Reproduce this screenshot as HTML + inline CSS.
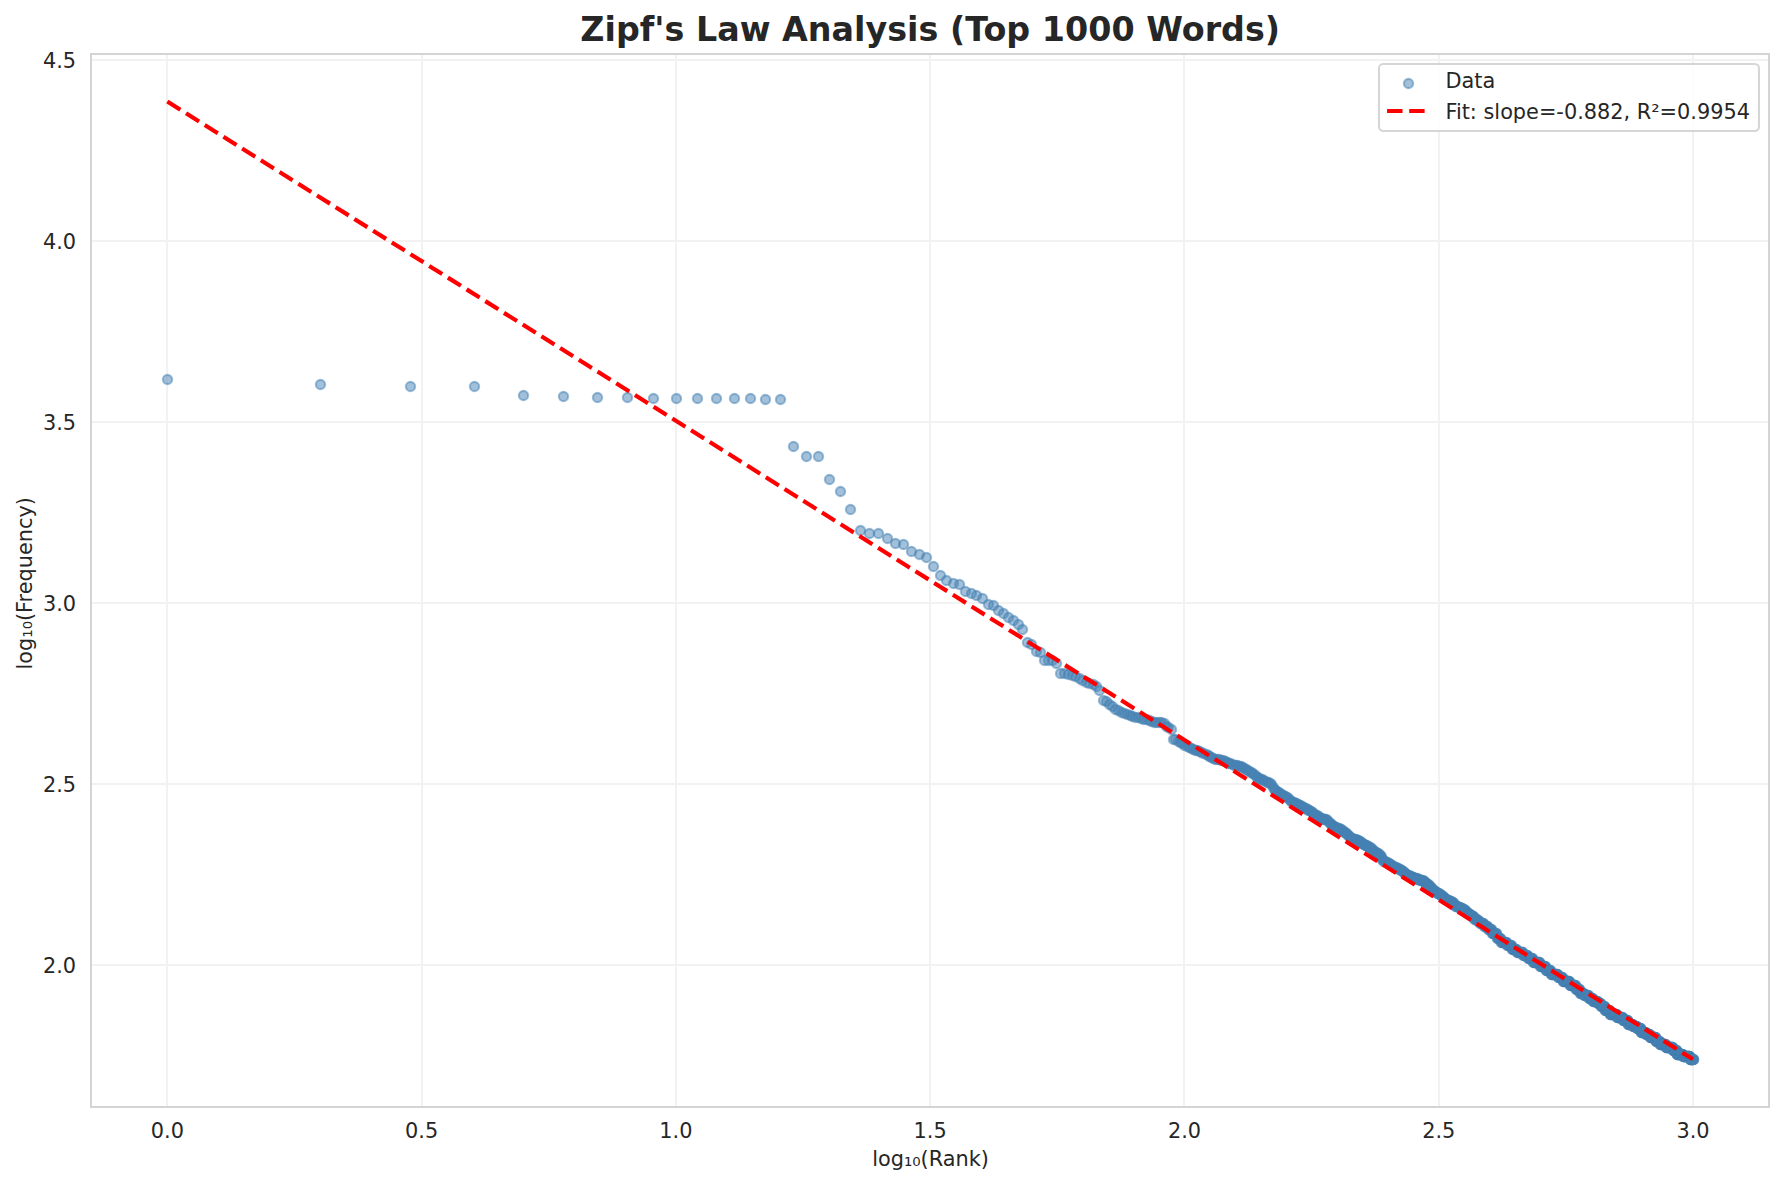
<!DOCTYPE html>
<html lang="en">
<head>
<meta charset="utf-8">
<title>Zipf's Law Analysis (Top 1000 Words)</title>
<style>
html,body{margin:0;padding:0;background:#fff;}
body{width:1784px;height:1185px;overflow:hidden;}
svg{display:block;}
text{font-family:"DejaVu Sans", "Liberation Sans", sans-serif;fill:#262626;}
.t{font-size:20.833px;}
.title{font-size:33.333px;font-weight:bold;}
.g{fill:#f2f2f2;}
.sp{fill:#d4d4d4;}
.pt circle{fill:#4682b4;fill-opacity:.5;stroke:#4682b4;stroke-opacity:.5;stroke-width:2.083;}
</style>
</head>
<body>
<svg width="1784" height="1185" viewBox="0 0 1784 1185">
<rect x="0" y="0" width="1784" height="1185" fill="#ffffff"/>
<g class="g" shape-rendering="crispEdges">
<rect x="166" y="54" width="2" height="1053"/>
<rect x="421" y="54" width="2" height="1053"/>
<rect x="675" y="54" width="2" height="1053"/>
<rect x="929" y="54" width="2" height="1053"/>
<rect x="1183" y="54" width="2" height="1053"/>
<rect x="1438" y="54" width="2" height="1053"/>
<rect x="1692" y="54" width="2" height="1053"/>
<rect x="91" y="59" width="1678" height="2"/>
<rect x="91" y="240" width="1678" height="2"/>
<rect x="91" y="421" width="1678" height="2"/>
<rect x="91" y="602" width="1678" height="2"/>
<rect x="91" y="783" width="1678" height="2"/>
<rect x="91" y="964" width="1678" height="2"/>
</g>
<g class="pt">
<circle cx="167.50" cy="379.50" r="4.658"/>
<circle cx="320.50" cy="384.50" r="4.658"/>
<circle cx="410.50" cy="386.50" r="4.658"/>
<circle cx="474.50" cy="386.50" r="4.658"/>
<circle cx="523.50" cy="395.50" r="4.658"/>
<circle cx="563.50" cy="396.50" r="4.658"/>
<circle cx="597.50" cy="397.50" r="4.658"/>
<circle cx="627.50" cy="397.50" r="4.658"/>
<circle cx="653.50" cy="398.50" r="4.658"/>
<circle cx="676.50" cy="398.50" r="4.658"/>
<circle cx="697.50" cy="398.50" r="4.658"/>
<circle cx="716.50" cy="398.50" r="4.658"/>
<circle cx="734.50" cy="398.50" r="4.658"/>
<circle cx="750.50" cy="398.50" r="4.658"/>
<circle cx="765.50" cy="399.50" r="4.658"/>
<circle cx="780.50" cy="399.50" r="4.658"/>
<circle cx="793.50" cy="446.50" r="4.658"/>
<circle cx="806.50" cy="456.50" r="4.658"/>
<circle cx="818.50" cy="456.50" r="4.658"/>
<circle cx="829.50" cy="479.50" r="4.658"/>
<circle cx="840.50" cy="491.50" r="4.658"/>
<circle cx="850.50" cy="509.50" r="4.658"/>
<circle cx="860.50" cy="530.50" r="4.658"/>
<circle cx="869.50" cy="533.50" r="4.658"/>
<circle cx="878.50" cy="533.50" r="4.658"/>
<circle cx="887.50" cy="538.50" r="4.658"/>
<circle cx="895.50" cy="543.50" r="4.658"/>
<circle cx="903.50" cy="544.50" r="4.658"/>
<circle cx="911.50" cy="551.50" r="4.658"/>
<circle cx="919.50" cy="554.50" r="4.658"/>
<circle cx="926.50" cy="557.50" r="4.658"/>
<circle cx="933.50" cy="566.50" r="4.658"/>
<circle cx="940.50" cy="575.50" r="4.658"/>
<circle cx="946.50" cy="580.50" r="4.658"/>
<circle cx="953.50" cy="583.50" r="4.658"/>
<circle cx="959.50" cy="584.50" r="4.658"/>
<circle cx="965.50" cy="591.50" r="4.658"/>
<circle cx="971.50" cy="593.50" r="4.658"/>
<circle cx="976.50" cy="595.50" r="4.658"/>
<circle cx="982.50" cy="598.50" r="4.658"/>
<circle cx="988.50" cy="604.50" r="4.658"/>
<circle cx="993.50" cy="605.50" r="4.658"/>
<circle cx="998.50" cy="610.50" r="4.658"/>
<circle cx="1003.50" cy="613.50" r="4.658"/>
<circle cx="1008.50" cy="617.50" r="4.658"/>
<circle cx="1013.50" cy="620.50" r="4.658"/>
<circle cx="1018.50" cy="624.50" r="4.658"/>
<circle cx="1022.50" cy="629.50" r="4.658"/>
<circle cx="1027.50" cy="642.50" r="4.658"/>
<circle cx="1031.50" cy="644.50" r="4.658"/>
<circle cx="1036.50" cy="651.50" r="4.658"/>
<circle cx="1040.50" cy="652.50" r="4.658"/>
<circle cx="1044.50" cy="660.50" r="4.658"/>
<circle cx="1048.50" cy="660.50" r="4.658"/>
<circle cx="1052.50" cy="660.50" r="4.658"/>
<circle cx="1056.50" cy="663.50" r="4.658"/>
<circle cx="1060.50" cy="673.50" r="4.658"/>
<circle cx="1064.50" cy="673.50" r="4.658"/>
<circle cx="1068.50" cy="674.50" r="4.658"/>
<circle cx="1072.50" cy="675.50" r="4.658"/>
<circle cx="1075.50" cy="676.50" r="4.658"/>
<circle cx="1079.50" cy="678.50" r="4.658"/>
<circle cx="1082.50" cy="680.50" r="4.658"/>
<circle cx="1086.50" cy="682.50" r="4.658"/>
<circle cx="1089.50" cy="683.50" r="4.658"/>
<circle cx="1093.50" cy="684.50" r="4.658"/>
<circle cx="1096.50" cy="686.50" r="4.658"/>
<circle cx="1099.50" cy="690.50" r="4.658"/>
<circle cx="1103.50" cy="700.50" r="4.658"/>
<circle cx="1106.50" cy="701.50" r="4.658"/>
<circle cx="1109.50" cy="704.50" r="4.658"/>
<circle cx="1112.50" cy="706.50" r="4.658"/>
<circle cx="1115.50" cy="709.50" r="4.658"/>
<circle cx="1118.50" cy="710.50" r="4.658"/>
<circle cx="1121.50" cy="712.50" r="4.658"/>
<circle cx="1124.50" cy="713.50" r="4.658"/>
<circle cx="1127.50" cy="714.50" r="4.658"/>
<circle cx="1130.50" cy="715.50" r="4.658"/>
<circle cx="1132.50" cy="716.50" r="4.658"/>
<circle cx="1135.50" cy="717.50" r="4.658"/>
<circle cx="1138.50" cy="717.50" r="4.658"/>
<circle cx="1141.50" cy="718.50" r="4.658"/>
<circle cx="1143.50" cy="719.50" r="4.658"/>
<circle cx="1146.50" cy="719.50" r="4.658"/>
<circle cx="1149.50" cy="720.50" r="4.658"/>
<circle cx="1151.50" cy="721.50" r="4.658"/>
<circle cx="1154.50" cy="722.50" r="4.658"/>
<circle cx="1156.50" cy="722.50" r="4.658"/>
<circle cx="1159.50" cy="722.50" r="4.658"/>
<circle cx="1161.50" cy="722.50" r="4.658"/>
<circle cx="1164.50" cy="723.50" r="4.658"/>
<circle cx="1166.50" cy="726.50" r="4.658"/>
<circle cx="1168.50" cy="727.50" r="4.658"/>
<circle cx="1171.50" cy="729.50" r="4.658"/>
<circle cx="1173.50" cy="739.50" r="4.658"/>
<circle cx="1175.50" cy="739.50" r="4.658"/>
<circle cx="1178.50" cy="741.50" r="4.658"/>
<circle cx="1180.50" cy="742.50" r="4.658"/>
<circle cx="1182.50" cy="743.50" r="4.658"/>
<circle cx="1184.50" cy="745.50" r="4.658"/>
<circle cx="1187.50" cy="746.50" r="4.658"/>
<circle cx="1189.50" cy="747.50" r="4.658"/>
<circle cx="1191.50" cy="748.50" r="4.658"/>
<circle cx="1193.50" cy="749.50" r="4.658"/>
<circle cx="1195.50" cy="750.50" r="4.658"/>
<circle cx="1197.50" cy="750.50" r="4.658"/>
<circle cx="1199.50" cy="751.50" r="4.658"/>
<circle cx="1201.50" cy="752.50" r="4.658"/>
<circle cx="1203.50" cy="753.50" r="4.658"/>
<circle cx="1206.50" cy="754.50" r="4.658"/>
<circle cx="1208.50" cy="755.50" r="4.658"/>
<circle cx="1209.50" cy="756.50" r="4.658"/>
<circle cx="1211.50" cy="757.50" r="4.658"/>
<circle cx="1213.50" cy="758.50" r="4.658"/>
<circle cx="1215.50" cy="759.50" r="4.658"/>
<circle cx="1217.50" cy="759.50" r="4.658"/>
<circle cx="1219.50" cy="759.50" r="4.658"/>
<circle cx="1221.50" cy="760.50" r="4.658"/>
<circle cx="1223.50" cy="760.50" r="4.658"/>
<circle cx="1225.50" cy="761.50" r="4.658"/>
<circle cx="1227.50" cy="762.50" r="4.658"/>
<circle cx="1228.50" cy="763.50" r="4.658"/>
<circle cx="1230.50" cy="763.50" r="4.658"/>
<circle cx="1232.50" cy="764.50" r="4.658"/>
<circle cx="1234.50" cy="765.50" r="4.658"/>
<circle cx="1236.50" cy="765.50" r="4.658"/>
<circle cx="1237.50" cy="765.50" r="4.658"/>
<circle cx="1239.50" cy="766.50" r="4.658"/>
<circle cx="1241.50" cy="766.50" r="4.658"/>
<circle cx="1242.50" cy="767.50" r="4.658"/>
<circle cx="1244.50" cy="768.50" r="4.658"/>
<circle cx="1246.50" cy="769.50" r="4.658"/>
<circle cx="1247.50" cy="770.50" r="4.658"/>
<circle cx="1249.50" cy="771.50" r="4.658"/>
<circle cx="1251.50" cy="772.50" r="4.658"/>
<circle cx="1252.50" cy="773.50" r="4.658"/>
<circle cx="1254.50" cy="774.50" r="4.658"/>
<circle cx="1256.50" cy="776.50" r="4.658"/>
<circle cx="1257.50" cy="777.50" r="4.658"/>
<circle cx="1259.50" cy="778.50" r="4.658"/>
<circle cx="1260.50" cy="779.50" r="4.658"/>
<circle cx="1262.50" cy="779.50" r="4.658"/>
<circle cx="1263.50" cy="780.50" r="4.658"/>
<circle cx="1265.50" cy="781.50" r="4.658"/>
<circle cx="1267.50" cy="782.50" r="4.658"/>
<circle cx="1268.50" cy="782.50" r="4.658"/>
<circle cx="1270.50" cy="783.50" r="4.658"/>
<circle cx="1271.50" cy="784.50" r="4.658"/>
<circle cx="1273.50" cy="787.50" r="4.658"/>
<circle cx="1274.50" cy="789.50" r="4.658"/>
<circle cx="1275.50" cy="790.50" r="4.658"/>
<circle cx="1277.50" cy="791.50" r="4.658"/>
<circle cx="1278.50" cy="792.50" r="4.658"/>
<circle cx="1280.50" cy="793.50" r="4.658"/>
<circle cx="1281.50" cy="794.50" r="4.658"/>
<circle cx="1283.50" cy="795.50" r="4.658"/>
<circle cx="1284.50" cy="796.50" r="4.658"/>
<circle cx="1285.50" cy="796.50" r="4.658"/>
<circle cx="1287.50" cy="797.50" r="4.658"/>
<circle cx="1288.50" cy="798.50" r="4.658"/>
<circle cx="1290.50" cy="800.50" r="4.658"/>
<circle cx="1291.50" cy="801.50" r="4.658"/>
<circle cx="1292.50" cy="802.50" r="4.658"/>
<circle cx="1294.50" cy="802.50" r="4.658"/>
<circle cx="1295.50" cy="803.50" r="4.658"/>
<circle cx="1296.50" cy="803.50" r="4.658"/>
<circle cx="1298.50" cy="804.50" r="4.658"/>
<circle cx="1299.50" cy="805.50" r="4.658"/>
<circle cx="1300.50" cy="805.50" r="4.658"/>
<circle cx="1302.50" cy="806.50" r="4.658"/>
<circle cx="1303.50" cy="807.50" r="4.658"/>
<circle cx="1304.50" cy="808.50" r="4.658"/>
<circle cx="1306.50" cy="808.50" r="4.658"/>
<circle cx="1307.50" cy="809.50" r="4.658"/>
<circle cx="1308.50" cy="810.50" r="4.658"/>
<circle cx="1309.50" cy="810.50" r="4.658"/>
<circle cx="1311.50" cy="811.50" r="4.658"/>
<circle cx="1312.50" cy="812.50" r="4.658"/>
<circle cx="1313.50" cy="813.50" r="4.658"/>
<circle cx="1314.50" cy="814.50" r="4.658"/>
<circle cx="1316.50" cy="815.50" r="4.658"/>
<circle cx="1317.50" cy="815.50" r="4.658"/>
<circle cx="1318.50" cy="816.50" r="4.658"/>
<circle cx="1319.50" cy="817.50" r="4.658"/>
<circle cx="1320.50" cy="818.50" r="4.658"/>
<circle cx="1322.50" cy="818.50" r="4.658"/>
<circle cx="1323.50" cy="819.50" r="4.658"/>
<circle cx="1324.50" cy="819.50" r="4.658"/>
<circle cx="1325.50" cy="819.50" r="4.658"/>
<circle cx="1326.50" cy="819.50" r="4.658"/>
<circle cx="1327.50" cy="820.50" r="4.658"/>
<circle cx="1329.50" cy="822.50" r="4.658"/>
<circle cx="1330.50" cy="823.50" r="4.658"/>
<circle cx="1331.50" cy="824.50" r="4.658"/>
<circle cx="1332.50" cy="825.50" r="4.658"/>
<circle cx="1333.50" cy="826.50" r="4.658"/>
<circle cx="1334.50" cy="826.50" r="4.658"/>
<circle cx="1335.50" cy="827.50" r="4.658"/>
<circle cx="1336.50" cy="827.50" r="4.658"/>
<circle cx="1338.50" cy="828.50" r="4.658"/>
<circle cx="1339.50" cy="828.50" r="4.658"/>
<circle cx="1340.50" cy="829.50" r="4.658"/>
<circle cx="1341.50" cy="829.50" r="4.658"/>
<circle cx="1342.50" cy="830.50" r="4.658"/>
<circle cx="1343.50" cy="831.50" r="4.658"/>
<circle cx="1344.50" cy="832.50" r="4.658"/>
<circle cx="1345.50" cy="832.50" r="4.658"/>
<circle cx="1346.50" cy="833.50" r="4.658"/>
<circle cx="1347.50" cy="834.50" r="4.658"/>
<circle cx="1348.50" cy="835.50" r="4.658"/>
<circle cx="1349.50" cy="836.50" r="4.658"/>
<circle cx="1350.50" cy="837.50" r="4.658"/>
<circle cx="1351.50" cy="838.50" r="4.658"/>
<circle cx="1352.50" cy="838.50" r="4.658"/>
<circle cx="1354.50" cy="839.50" r="4.658"/>
<circle cx="1355.50" cy="839.50" r="4.658"/>
<circle cx="1356.50" cy="839.50" r="4.658"/>
<circle cx="1357.50" cy="840.50" r="4.658"/>
<circle cx="1358.50" cy="840.50" r="4.658"/>
<circle cx="1359.50" cy="841.50" r="4.658"/>
<circle cx="1360.50" cy="841.50" r="4.658"/>
<circle cx="1361.50" cy="842.50" r="4.658"/>
<circle cx="1362.50" cy="843.50" r="4.658"/>
<circle cx="1363.50" cy="844.50" r="4.658"/>
<circle cx="1364.50" cy="844.50" r="4.658"/>
<circle cx="1365.50" cy="845.50" r="4.658"/>
<circle cx="1366.50" cy="845.50" r="4.658"/>
<circle cx="1366.50" cy="845.50" r="4.658"/>
<circle cx="1367.50" cy="846.50" r="4.658"/>
<circle cx="1368.50" cy="846.50" r="4.658"/>
<circle cx="1369.50" cy="847.50" r="4.658"/>
<circle cx="1370.50" cy="847.50" r="4.658"/>
<circle cx="1371.50" cy="848.50" r="4.658"/>
<circle cx="1372.50" cy="849.50" r="4.658"/>
<circle cx="1373.50" cy="850.50" r="4.658"/>
<circle cx="1374.50" cy="851.50" r="4.658"/>
<circle cx="1375.50" cy="852.50" r="4.658"/>
<circle cx="1376.50" cy="852.50" r="4.658"/>
<circle cx="1377.50" cy="853.50" r="4.658"/>
<circle cx="1378.50" cy="853.50" r="4.658"/>
<circle cx="1379.50" cy="854.50" r="4.658"/>
<circle cx="1380.50" cy="855.50" r="4.658"/>
<circle cx="1381.50" cy="856.50" r="4.658"/>
<circle cx="1381.50" cy="858.50" r="4.658"/>
<circle cx="1382.50" cy="859.50" r="4.658"/>
<circle cx="1383.50" cy="861.50" r="4.658"/>
<circle cx="1384.50" cy="861.50" r="4.658"/>
<circle cx="1385.50" cy="861.50" r="4.658"/>
<circle cx="1386.50" cy="862.50" r="4.658"/>
<circle cx="1387.50" cy="862.50" r="4.658"/>
<circle cx="1388.50" cy="863.50" r="4.658"/>
<circle cx="1389.50" cy="863.50" r="4.658"/>
<circle cx="1389.50" cy="864.50" r="4.658"/>
<circle cx="1390.50" cy="864.50" r="4.658"/>
<circle cx="1391.50" cy="865.50" r="4.658"/>
<circle cx="1392.50" cy="865.50" r="4.658"/>
<circle cx="1393.50" cy="866.50" r="4.658"/>
<circle cx="1394.50" cy="867.50" r="4.658"/>
<circle cx="1395.50" cy="867.50" r="4.658"/>
<circle cx="1396.50" cy="867.50" r="4.658"/>
<circle cx="1396.50" cy="868.50" r="4.658"/>
<circle cx="1397.50" cy="868.50" r="4.658"/>
<circle cx="1398.50" cy="868.50" r="4.658"/>
<circle cx="1399.50" cy="869.50" r="4.658"/>
<circle cx="1400.50" cy="869.50" r="4.658"/>
<circle cx="1401.50" cy="870.50" r="4.658"/>
<circle cx="1401.50" cy="870.50" r="4.658"/>
<circle cx="1402.50" cy="871.50" r="4.658"/>
<circle cx="1403.50" cy="871.50" r="4.658"/>
<circle cx="1404.50" cy="872.50" r="4.658"/>
<circle cx="1405.50" cy="873.50" r="4.658"/>
<circle cx="1405.50" cy="874.50" r="4.658"/>
<circle cx="1406.50" cy="874.50" r="4.658"/>
<circle cx="1407.50" cy="875.50" r="4.658"/>
<circle cx="1408.50" cy="875.50" r="4.658"/>
<circle cx="1409.50" cy="875.50" r="4.658"/>
<circle cx="1409.50" cy="876.50" r="4.658"/>
<circle cx="1410.50" cy="876.50" r="4.658"/>
<circle cx="1411.50" cy="876.50" r="4.658"/>
<circle cx="1412.50" cy="877.50" r="4.658"/>
<circle cx="1413.50" cy="877.50" r="4.658"/>
<circle cx="1413.50" cy="877.50" r="4.658"/>
<circle cx="1414.50" cy="878.50" r="4.658"/>
<circle cx="1415.50" cy="878.50" r="4.658"/>
<circle cx="1416.50" cy="878.50" r="4.658"/>
<circle cx="1417.50" cy="878.50" r="4.658"/>
<circle cx="1417.50" cy="879.50" r="4.658"/>
<circle cx="1418.50" cy="879.50" r="4.658"/>
<circle cx="1419.50" cy="879.50" r="4.658"/>
<circle cx="1420.50" cy="880.50" r="4.658"/>
<circle cx="1420.50" cy="880.50" r="4.658"/>
<circle cx="1421.50" cy="880.50" r="4.658"/>
<circle cx="1422.50" cy="880.50" r="4.658"/>
<circle cx="1423.50" cy="880.50" r="4.658"/>
<circle cx="1423.50" cy="881.50" r="4.658"/>
<circle cx="1424.50" cy="881.50" r="4.658"/>
<circle cx="1425.50" cy="882.50" r="4.658"/>
<circle cx="1426.50" cy="883.50" r="4.658"/>
<circle cx="1426.50" cy="883.50" r="4.658"/>
<circle cx="1427.50" cy="884.50" r="4.658"/>
<circle cx="1428.50" cy="884.50" r="4.658"/>
<circle cx="1429.50" cy="885.50" r="4.658"/>
<circle cx="1429.50" cy="886.50" r="4.658"/>
<circle cx="1430.50" cy="887.50" r="4.658"/>
<circle cx="1431.50" cy="887.50" r="4.658"/>
<circle cx="1431.50" cy="888.50" r="4.658"/>
<circle cx="1432.50" cy="889.50" r="4.658"/>
<circle cx="1433.50" cy="890.50" r="4.658"/>
<circle cx="1434.50" cy="890.50" r="4.658"/>
<circle cx="1434.50" cy="891.50" r="4.658"/>
<circle cx="1435.50" cy="891.50" r="4.658"/>
<circle cx="1436.50" cy="892.50" r="4.658"/>
<circle cx="1436.50" cy="892.50" r="4.658"/>
<circle cx="1437.50" cy="893.50" r="4.658"/>
<circle cx="1438.50" cy="893.50" r="4.658"/>
<circle cx="1439.50" cy="893.50" r="4.658"/>
<circle cx="1439.50" cy="894.50" r="4.658"/>
<circle cx="1440.50" cy="894.50" r="4.658"/>
<circle cx="1441.50" cy="895.50" r="4.658"/>
<circle cx="1441.50" cy="895.50" r="4.658"/>
<circle cx="1442.50" cy="896.50" r="4.658"/>
<circle cx="1443.50" cy="896.50" r="4.658"/>
<circle cx="1443.50" cy="897.50" r="4.658"/>
<circle cx="1444.50" cy="898.50" r="4.658"/>
<circle cx="1445.50" cy="898.50" r="4.658"/>
<circle cx="1445.50" cy="899.50" r="4.658"/>
<circle cx="1446.50" cy="899.50" r="4.658"/>
<circle cx="1447.50" cy="900.50" r="4.658"/>
<circle cx="1447.50" cy="900.50" r="4.658"/>
<circle cx="1448.50" cy="900.50" r="4.658"/>
<circle cx="1449.50" cy="900.50" r="4.658"/>
<circle cx="1449.50" cy="901.50" r="4.658"/>
<circle cx="1450.50" cy="901.50" r="4.658"/>
<circle cx="1451.50" cy="901.50" r="4.658"/>
<circle cx="1451.50" cy="902.50" r="4.658"/>
<circle cx="1452.50" cy="902.50" r="4.658"/>
<circle cx="1453.50" cy="902.50" r="4.658"/>
<circle cx="1453.50" cy="903.50" r="4.658"/>
<circle cx="1454.50" cy="904.50" r="4.658"/>
<circle cx="1455.50" cy="905.50" r="4.658"/>
<circle cx="1455.50" cy="906.50" r="4.658"/>
<circle cx="1456.50" cy="906.50" r="4.658"/>
<circle cx="1457.50" cy="906.50" r="4.658"/>
<circle cx="1457.50" cy="906.50" r="4.658"/>
<circle cx="1458.50" cy="907.50" r="4.658"/>
<circle cx="1459.50" cy="907.50" r="4.658"/>
<circle cx="1459.50" cy="907.50" r="4.658"/>
<circle cx="1460.50" cy="907.50" r="4.658"/>
<circle cx="1461.50" cy="908.50" r="4.658"/>
<circle cx="1461.50" cy="908.50" r="4.658"/>
<circle cx="1462.50" cy="908.50" r="4.658"/>
<circle cx="1462.50" cy="909.50" r="4.658"/>
<circle cx="1463.50" cy="909.50" r="4.658"/>
<circle cx="1464.50" cy="909.50" r="4.658"/>
<circle cx="1464.50" cy="910.50" r="4.658"/>
<circle cx="1465.50" cy="910.50" r="4.658"/>
<circle cx="1466.50" cy="911.50" r="4.658"/>
<circle cx="1466.50" cy="912.50" r="4.658"/>
<circle cx="1467.50" cy="912.50" r="4.658"/>
<circle cx="1467.50" cy="913.50" r="4.658"/>
<circle cx="1468.50" cy="913.50" r="4.658"/>
<circle cx="1469.50" cy="914.50" r="4.658"/>
<circle cx="1469.50" cy="914.50" r="4.658"/>
<circle cx="1470.50" cy="914.50" r="4.658"/>
<circle cx="1470.50" cy="915.50" r="4.658"/>
<circle cx="1471.50" cy="915.50" r="4.658"/>
<circle cx="1472.50" cy="916.50" r="4.658"/>
<circle cx="1472.50" cy="916.50" r="4.658"/>
<circle cx="1473.50" cy="916.50" r="4.658"/>
<circle cx="1473.50" cy="916.50" r="4.658"/>
<circle cx="1474.50" cy="919.50" r="4.658"/>
<circle cx="1475.50" cy="919.50" r="4.658"/>
<circle cx="1475.50" cy="919.50" r="4.658"/>
<circle cx="1476.50" cy="919.50" r="4.658"/>
<circle cx="1476.50" cy="919.50" r="4.658"/>
<circle cx="1477.50" cy="919.50" r="4.658"/>
<circle cx="1478.50" cy="921.50" r="4.658"/>
<circle cx="1478.50" cy="921.50" r="4.658"/>
<circle cx="1479.50" cy="921.50" r="4.658"/>
<circle cx="1479.50" cy="921.50" r="4.658"/>
<circle cx="1480.50" cy="923.50" r="4.658"/>
<circle cx="1480.50" cy="923.50" r="4.658"/>
<circle cx="1481.50" cy="923.50" r="4.658"/>
<circle cx="1482.50" cy="923.50" r="4.658"/>
<circle cx="1482.50" cy="923.50" r="4.658"/>
<circle cx="1483.50" cy="923.50" r="4.658"/>
<circle cx="1483.50" cy="923.50" r="4.658"/>
<circle cx="1484.50" cy="926.50" r="4.658"/>
<circle cx="1484.50" cy="926.50" r="4.658"/>
<circle cx="1485.50" cy="926.50" r="4.658"/>
<circle cx="1486.50" cy="926.50" r="4.658"/>
<circle cx="1486.50" cy="926.50" r="4.658"/>
<circle cx="1487.50" cy="926.50" r="4.658"/>
<circle cx="1487.50" cy="926.50" r="4.658"/>
<circle cx="1488.50" cy="929.50" r="4.658"/>
<circle cx="1488.50" cy="929.50" r="4.658"/>
<circle cx="1489.50" cy="929.50" r="4.658"/>
<circle cx="1490.50" cy="929.50" r="4.658"/>
<circle cx="1490.50" cy="929.50" r="4.658"/>
<circle cx="1491.50" cy="929.50" r="4.658"/>
<circle cx="1491.50" cy="929.50" r="4.658"/>
<circle cx="1492.50" cy="933.50" r="4.658"/>
<circle cx="1492.50" cy="933.50" r="4.658"/>
<circle cx="1493.50" cy="933.50" r="4.658"/>
<circle cx="1493.50" cy="933.50" r="4.658"/>
<circle cx="1494.50" cy="933.50" r="4.658"/>
<circle cx="1494.50" cy="933.50" r="4.658"/>
<circle cx="1495.50" cy="933.50" r="4.658"/>
<circle cx="1496.50" cy="933.50" r="4.658"/>
<circle cx="1496.50" cy="933.50" r="4.658"/>
<circle cx="1497.50" cy="938.50" r="4.658"/>
<circle cx="1497.50" cy="938.50" r="4.658"/>
<circle cx="1498.50" cy="938.50" r="4.658"/>
<circle cx="1498.50" cy="938.50" r="4.658"/>
<circle cx="1499.50" cy="938.50" r="4.658"/>
<circle cx="1499.50" cy="938.50" r="4.658"/>
<circle cx="1500.50" cy="938.50" r="4.658"/>
<circle cx="1500.50" cy="938.50" r="4.658"/>
<circle cx="1501.50" cy="942.50" r="4.658"/>
<circle cx="1501.50" cy="942.50" r="4.658"/>
<circle cx="1502.50" cy="942.50" r="4.658"/>
<circle cx="1502.50" cy="942.50" r="4.658"/>
<circle cx="1503.50" cy="942.50" r="4.658"/>
<circle cx="1504.50" cy="942.50" r="4.658"/>
<circle cx="1504.50" cy="942.50" r="4.658"/>
<circle cx="1505.50" cy="942.50" r="4.658"/>
<circle cx="1505.50" cy="942.50" r="4.658"/>
<circle cx="1506.50" cy="942.50" r="4.658"/>
<circle cx="1506.50" cy="942.50" r="4.658"/>
<circle cx="1507.50" cy="945.50" r="4.658"/>
<circle cx="1507.50" cy="945.50" r="4.658"/>
<circle cx="1508.50" cy="945.50" r="4.658"/>
<circle cx="1508.50" cy="945.50" r="4.658"/>
<circle cx="1509.50" cy="945.50" r="4.658"/>
<circle cx="1509.50" cy="945.50" r="4.658"/>
<circle cx="1510.50" cy="945.50" r="4.658"/>
<circle cx="1510.50" cy="945.50" r="4.658"/>
<circle cx="1511.50" cy="945.50" r="4.658"/>
<circle cx="1511.50" cy="945.50" r="4.658"/>
<circle cx="1512.50" cy="949.50" r="4.658"/>
<circle cx="1512.50" cy="949.50" r="4.658"/>
<circle cx="1513.50" cy="949.50" r="4.658"/>
<circle cx="1513.50" cy="949.50" r="4.658"/>
<circle cx="1514.50" cy="949.50" r="4.658"/>
<circle cx="1514.50" cy="949.50" r="4.658"/>
<circle cx="1515.50" cy="949.50" r="4.658"/>
<circle cx="1515.50" cy="949.50" r="4.658"/>
<circle cx="1516.50" cy="949.50" r="4.658"/>
<circle cx="1516.50" cy="949.50" r="4.658"/>
<circle cx="1517.50" cy="952.50" r="4.658"/>
<circle cx="1517.50" cy="952.50" r="4.658"/>
<circle cx="1518.50" cy="952.50" r="4.658"/>
<circle cx="1518.50" cy="952.50" r="4.658"/>
<circle cx="1519.50" cy="952.50" r="4.658"/>
<circle cx="1519.50" cy="952.50" r="4.658"/>
<circle cx="1520.50" cy="952.50" r="4.658"/>
<circle cx="1520.50" cy="952.50" r="4.658"/>
<circle cx="1521.50" cy="952.50" r="4.658"/>
<circle cx="1521.50" cy="952.50" r="4.658"/>
<circle cx="1522.50" cy="952.50" r="4.658"/>
<circle cx="1522.50" cy="952.50" r="4.658"/>
<circle cx="1522.50" cy="952.50" r="4.658"/>
<circle cx="1523.50" cy="955.50" r="4.658"/>
<circle cx="1523.50" cy="955.50" r="4.658"/>
<circle cx="1524.50" cy="955.50" r="4.658"/>
<circle cx="1524.50" cy="955.50" r="4.658"/>
<circle cx="1525.50" cy="955.50" r="4.658"/>
<circle cx="1525.50" cy="955.50" r="4.658"/>
<circle cx="1526.50" cy="955.50" r="4.658"/>
<circle cx="1526.50" cy="955.50" r="4.658"/>
<circle cx="1527.50" cy="955.50" r="4.658"/>
<circle cx="1527.50" cy="955.50" r="4.658"/>
<circle cx="1528.50" cy="958.50" r="4.658"/>
<circle cx="1528.50" cy="958.50" r="4.658"/>
<circle cx="1529.50" cy="958.50" r="4.658"/>
<circle cx="1529.50" cy="958.50" r="4.658"/>
<circle cx="1530.50" cy="958.50" r="4.658"/>
<circle cx="1530.50" cy="958.50" r="4.658"/>
<circle cx="1530.50" cy="958.50" r="4.658"/>
<circle cx="1531.50" cy="958.50" r="4.658"/>
<circle cx="1531.50" cy="958.50" r="4.658"/>
<circle cx="1532.50" cy="958.50" r="4.658"/>
<circle cx="1532.50" cy="958.50" r="4.658"/>
<circle cx="1533.50" cy="962.50" r="4.658"/>
<circle cx="1533.50" cy="962.50" r="4.658"/>
<circle cx="1534.50" cy="962.50" r="4.658"/>
<circle cx="1534.50" cy="962.50" r="4.658"/>
<circle cx="1535.50" cy="962.50" r="4.658"/>
<circle cx="1535.50" cy="962.50" r="4.658"/>
<circle cx="1535.50" cy="962.50" r="4.658"/>
<circle cx="1536.50" cy="962.50" r="4.658"/>
<circle cx="1536.50" cy="962.50" r="4.658"/>
<circle cx="1537.50" cy="962.50" r="4.658"/>
<circle cx="1537.50" cy="962.50" r="4.658"/>
<circle cx="1538.50" cy="962.50" r="4.658"/>
<circle cx="1538.50" cy="962.50" r="4.658"/>
<circle cx="1539.50" cy="962.50" r="4.658"/>
<circle cx="1539.50" cy="962.50" r="4.658"/>
<circle cx="1539.50" cy="962.50" r="4.658"/>
<circle cx="1540.50" cy="966.50" r="4.658"/>
<circle cx="1540.50" cy="966.50" r="4.658"/>
<circle cx="1541.50" cy="966.50" r="4.658"/>
<circle cx="1541.50" cy="966.50" r="4.658"/>
<circle cx="1542.50" cy="966.50" r="4.658"/>
<circle cx="1542.50" cy="966.50" r="4.658"/>
<circle cx="1543.50" cy="966.50" r="4.658"/>
<circle cx="1543.50" cy="966.50" r="4.658"/>
<circle cx="1543.50" cy="966.50" r="4.658"/>
<circle cx="1544.50" cy="966.50" r="4.658"/>
<circle cx="1544.50" cy="966.50" r="4.658"/>
<circle cx="1545.50" cy="966.50" r="4.658"/>
<circle cx="1545.50" cy="966.50" r="4.658"/>
<circle cx="1546.50" cy="970.50" r="4.658"/>
<circle cx="1546.50" cy="970.50" r="4.658"/>
<circle cx="1546.50" cy="970.50" r="4.658"/>
<circle cx="1547.50" cy="970.50" r="4.658"/>
<circle cx="1547.50" cy="970.50" r="4.658"/>
<circle cx="1548.50" cy="970.50" r="4.658"/>
<circle cx="1548.50" cy="970.50" r="4.658"/>
<circle cx="1549.50" cy="970.50" r="4.658"/>
<circle cx="1549.50" cy="970.50" r="4.658"/>
<circle cx="1549.50" cy="970.50" r="4.658"/>
<circle cx="1550.50" cy="970.50" r="4.658"/>
<circle cx="1550.50" cy="970.50" r="4.658"/>
<circle cx="1551.50" cy="974.50" r="4.658"/>
<circle cx="1551.50" cy="974.50" r="4.658"/>
<circle cx="1552.50" cy="974.50" r="4.658"/>
<circle cx="1552.50" cy="974.50" r="4.658"/>
<circle cx="1552.50" cy="974.50" r="4.658"/>
<circle cx="1553.50" cy="974.50" r="4.658"/>
<circle cx="1553.50" cy="974.50" r="4.658"/>
<circle cx="1554.50" cy="974.50" r="4.658"/>
<circle cx="1554.50" cy="974.50" r="4.658"/>
<circle cx="1554.50" cy="974.50" r="4.658"/>
<circle cx="1555.50" cy="974.50" r="4.658"/>
<circle cx="1555.50" cy="974.50" r="4.658"/>
<circle cx="1556.50" cy="974.50" r="4.658"/>
<circle cx="1556.50" cy="974.50" r="4.658"/>
<circle cx="1557.50" cy="974.50" r="4.658"/>
<circle cx="1557.50" cy="974.50" r="4.658"/>
<circle cx="1557.50" cy="974.50" r="4.658"/>
<circle cx="1558.50" cy="977.50" r="4.658"/>
<circle cx="1558.50" cy="977.50" r="4.658"/>
<circle cx="1559.50" cy="977.50" r="4.658"/>
<circle cx="1559.50" cy="977.50" r="4.658"/>
<circle cx="1559.50" cy="977.50" r="4.658"/>
<circle cx="1560.50" cy="977.50" r="4.658"/>
<circle cx="1560.50" cy="977.50" r="4.658"/>
<circle cx="1561.50" cy="977.50" r="4.658"/>
<circle cx="1561.50" cy="977.50" r="4.658"/>
<circle cx="1561.50" cy="977.50" r="4.658"/>
<circle cx="1562.50" cy="977.50" r="4.658"/>
<circle cx="1562.50" cy="977.50" r="4.658"/>
<circle cx="1563.50" cy="981.50" r="4.658"/>
<circle cx="1563.50" cy="981.50" r="4.658"/>
<circle cx="1563.50" cy="981.50" r="4.658"/>
<circle cx="1564.50" cy="981.50" r="4.658"/>
<circle cx="1564.50" cy="981.50" r="4.658"/>
<circle cx="1565.50" cy="981.50" r="4.658"/>
<circle cx="1565.50" cy="981.50" r="4.658"/>
<circle cx="1565.50" cy="981.50" r="4.658"/>
<circle cx="1566.50" cy="981.50" r="4.658"/>
<circle cx="1566.50" cy="981.50" r="4.658"/>
<circle cx="1567.50" cy="981.50" r="4.658"/>
<circle cx="1567.50" cy="981.50" r="4.658"/>
<circle cx="1567.50" cy="981.50" r="4.658"/>
<circle cx="1568.50" cy="981.50" r="4.658"/>
<circle cx="1568.50" cy="981.50" r="4.658"/>
<circle cx="1568.50" cy="981.50" r="4.658"/>
<circle cx="1569.50" cy="981.50" r="4.658"/>
<circle cx="1569.50" cy="981.50" r="4.658"/>
<circle cx="1570.50" cy="985.50" r="4.658"/>
<circle cx="1570.50" cy="985.50" r="4.658"/>
<circle cx="1570.50" cy="985.50" r="4.658"/>
<circle cx="1571.50" cy="985.50" r="4.658"/>
<circle cx="1571.50" cy="985.50" r="4.658"/>
<circle cx="1572.50" cy="985.50" r="4.658"/>
<circle cx="1572.50" cy="985.50" r="4.658"/>
<circle cx="1572.50" cy="985.50" r="4.658"/>
<circle cx="1573.50" cy="985.50" r="4.658"/>
<circle cx="1573.50" cy="985.50" r="4.658"/>
<circle cx="1573.50" cy="985.50" r="4.658"/>
<circle cx="1574.50" cy="985.50" r="4.658"/>
<circle cx="1574.50" cy="985.50" r="4.658"/>
<circle cx="1575.50" cy="985.50" r="4.658"/>
<circle cx="1575.50" cy="985.50" r="4.658"/>
<circle cx="1575.50" cy="985.50" r="4.658"/>
<circle cx="1576.50" cy="989.50" r="4.658"/>
<circle cx="1576.50" cy="989.50" r="4.658"/>
<circle cx="1576.50" cy="989.50" r="4.658"/>
<circle cx="1577.50" cy="989.50" r="4.658"/>
<circle cx="1577.50" cy="989.50" r="4.658"/>
<circle cx="1578.50" cy="989.50" r="4.658"/>
<circle cx="1578.50" cy="989.50" r="4.658"/>
<circle cx="1578.50" cy="989.50" r="4.658"/>
<circle cx="1579.50" cy="989.50" r="4.658"/>
<circle cx="1579.50" cy="989.50" r="4.658"/>
<circle cx="1579.50" cy="989.50" r="4.658"/>
<circle cx="1580.50" cy="993.50" r="4.658"/>
<circle cx="1580.50" cy="993.50" r="4.658"/>
<circle cx="1581.50" cy="993.50" r="4.658"/>
<circle cx="1581.50" cy="993.50" r="4.658"/>
<circle cx="1581.50" cy="993.50" r="4.658"/>
<circle cx="1582.50" cy="993.50" r="4.658"/>
<circle cx="1582.50" cy="993.50" r="4.658"/>
<circle cx="1582.50" cy="993.50" r="4.658"/>
<circle cx="1583.50" cy="993.50" r="4.658"/>
<circle cx="1583.50" cy="993.50" r="4.658"/>
<circle cx="1583.50" cy="993.50" r="4.658"/>
<circle cx="1584.50" cy="995.50" r="4.658"/>
<circle cx="1584.50" cy="995.50" r="4.658"/>
<circle cx="1585.50" cy="995.50" r="4.658"/>
<circle cx="1585.50" cy="995.50" r="4.658"/>
<circle cx="1585.50" cy="995.50" r="4.658"/>
<circle cx="1586.50" cy="995.50" r="4.658"/>
<circle cx="1586.50" cy="995.50" r="4.658"/>
<circle cx="1586.50" cy="995.50" r="4.658"/>
<circle cx="1587.50" cy="995.50" r="4.658"/>
<circle cx="1587.50" cy="995.50" r="4.658"/>
<circle cx="1587.50" cy="995.50" r="4.658"/>
<circle cx="1588.50" cy="995.50" r="4.658"/>
<circle cx="1588.50" cy="995.50" r="4.658"/>
<circle cx="1589.50" cy="998.50" r="4.658"/>
<circle cx="1589.50" cy="998.50" r="4.658"/>
<circle cx="1589.50" cy="998.50" r="4.658"/>
<circle cx="1590.50" cy="998.50" r="4.658"/>
<circle cx="1590.50" cy="998.50" r="4.658"/>
<circle cx="1590.50" cy="998.50" r="4.658"/>
<circle cx="1591.50" cy="998.50" r="4.658"/>
<circle cx="1591.50" cy="998.50" r="4.658"/>
<circle cx="1591.50" cy="998.50" r="4.658"/>
<circle cx="1592.50" cy="998.50" r="4.658"/>
<circle cx="1592.50" cy="998.50" r="4.658"/>
<circle cx="1592.50" cy="998.50" r="4.658"/>
<circle cx="1593.50" cy="1001.50" r="4.658"/>
<circle cx="1593.50" cy="1001.50" r="4.658"/>
<circle cx="1593.50" cy="1001.50" r="4.658"/>
<circle cx="1594.50" cy="1001.50" r="4.658"/>
<circle cx="1594.50" cy="1001.50" r="4.658"/>
<circle cx="1594.50" cy="1001.50" r="4.658"/>
<circle cx="1595.50" cy="1001.50" r="4.658"/>
<circle cx="1595.50" cy="1001.50" r="4.658"/>
<circle cx="1595.50" cy="1001.50" r="4.658"/>
<circle cx="1596.50" cy="1001.50" r="4.658"/>
<circle cx="1596.50" cy="1001.50" r="4.658"/>
<circle cx="1597.50" cy="1001.50" r="4.658"/>
<circle cx="1597.50" cy="1001.50" r="4.658"/>
<circle cx="1597.50" cy="1001.50" r="4.658"/>
<circle cx="1598.50" cy="1003.50" r="4.658"/>
<circle cx="1598.50" cy="1003.50" r="4.658"/>
<circle cx="1598.50" cy="1003.50" r="4.658"/>
<circle cx="1599.50" cy="1003.50" r="4.658"/>
<circle cx="1599.50" cy="1003.50" r="4.658"/>
<circle cx="1599.50" cy="1003.50" r="4.658"/>
<circle cx="1600.50" cy="1003.50" r="4.658"/>
<circle cx="1600.50" cy="1003.50" r="4.658"/>
<circle cx="1600.50" cy="1003.50" r="4.658"/>
<circle cx="1601.50" cy="1006.50" r="4.658"/>
<circle cx="1601.50" cy="1006.50" r="4.658"/>
<circle cx="1601.50" cy="1006.50" r="4.658"/>
<circle cx="1602.50" cy="1006.50" r="4.658"/>
<circle cx="1602.50" cy="1006.50" r="4.658"/>
<circle cx="1602.50" cy="1006.50" r="4.658"/>
<circle cx="1603.50" cy="1006.50" r="4.658"/>
<circle cx="1603.50" cy="1006.50" r="4.658"/>
<circle cx="1603.50" cy="1006.50" r="4.658"/>
<circle cx="1604.50" cy="1006.50" r="4.658"/>
<circle cx="1604.50" cy="1006.50" r="4.658"/>
<circle cx="1604.50" cy="1006.50" r="4.658"/>
<circle cx="1605.50" cy="1010.50" r="4.658"/>
<circle cx="1605.50" cy="1010.50" r="4.658"/>
<circle cx="1605.50" cy="1010.50" r="4.658"/>
<circle cx="1606.50" cy="1010.50" r="4.658"/>
<circle cx="1606.50" cy="1010.50" r="4.658"/>
<circle cx="1606.50" cy="1010.50" r="4.658"/>
<circle cx="1607.50" cy="1010.50" r="4.658"/>
<circle cx="1607.50" cy="1010.50" r="4.658"/>
<circle cx="1607.50" cy="1010.50" r="4.658"/>
<circle cx="1608.50" cy="1010.50" r="4.658"/>
<circle cx="1608.50" cy="1010.50" r="4.658"/>
<circle cx="1608.50" cy="1010.50" r="4.658"/>
<circle cx="1608.50" cy="1010.50" r="4.658"/>
<circle cx="1609.50" cy="1010.50" r="4.658"/>
<circle cx="1609.50" cy="1010.50" r="4.658"/>
<circle cx="1609.50" cy="1010.50" r="4.658"/>
<circle cx="1610.50" cy="1014.50" r="4.658"/>
<circle cx="1610.50" cy="1014.50" r="4.658"/>
<circle cx="1610.50" cy="1014.50" r="4.658"/>
<circle cx="1611.50" cy="1014.50" r="4.658"/>
<circle cx="1611.50" cy="1014.50" r="4.658"/>
<circle cx="1611.50" cy="1014.50" r="4.658"/>
<circle cx="1612.50" cy="1014.50" r="4.658"/>
<circle cx="1612.50" cy="1014.50" r="4.658"/>
<circle cx="1612.50" cy="1014.50" r="4.658"/>
<circle cx="1613.50" cy="1014.50" r="4.658"/>
<circle cx="1613.50" cy="1014.50" r="4.658"/>
<circle cx="1613.50" cy="1014.50" r="4.658"/>
<circle cx="1614.50" cy="1014.50" r="4.658"/>
<circle cx="1614.50" cy="1014.50" r="4.658"/>
<circle cx="1614.50" cy="1014.50" r="4.658"/>
<circle cx="1615.50" cy="1014.50" r="4.658"/>
<circle cx="1615.50" cy="1014.50" r="4.658"/>
<circle cx="1615.50" cy="1014.50" r="4.658"/>
<circle cx="1616.50" cy="1014.50" r="4.658"/>
<circle cx="1616.50" cy="1014.50" r="4.658"/>
<circle cx="1616.50" cy="1014.50" r="4.658"/>
<circle cx="1616.50" cy="1014.50" r="4.658"/>
<circle cx="1617.50" cy="1017.50" r="4.658"/>
<circle cx="1617.50" cy="1017.50" r="4.658"/>
<circle cx="1617.50" cy="1017.50" r="4.658"/>
<circle cx="1618.50" cy="1017.50" r="4.658"/>
<circle cx="1618.50" cy="1017.50" r="4.658"/>
<circle cx="1618.50" cy="1017.50" r="4.658"/>
<circle cx="1619.50" cy="1017.50" r="4.658"/>
<circle cx="1619.50" cy="1017.50" r="4.658"/>
<circle cx="1619.50" cy="1017.50" r="4.658"/>
<circle cx="1620.50" cy="1017.50" r="4.658"/>
<circle cx="1620.50" cy="1017.50" r="4.658"/>
<circle cx="1620.50" cy="1017.50" r="4.658"/>
<circle cx="1620.50" cy="1017.50" r="4.658"/>
<circle cx="1621.50" cy="1017.50" r="4.658"/>
<circle cx="1621.50" cy="1017.50" r="4.658"/>
<circle cx="1621.50" cy="1017.50" r="4.658"/>
<circle cx="1622.50" cy="1017.50" r="4.658"/>
<circle cx="1622.50" cy="1017.50" r="4.658"/>
<circle cx="1622.50" cy="1017.50" r="4.658"/>
<circle cx="1623.50" cy="1020.50" r="4.658"/>
<circle cx="1623.50" cy="1020.50" r="4.658"/>
<circle cx="1623.50" cy="1020.50" r="4.658"/>
<circle cx="1624.50" cy="1020.50" r="4.658"/>
<circle cx="1624.50" cy="1020.50" r="4.658"/>
<circle cx="1624.50" cy="1020.50" r="4.658"/>
<circle cx="1624.50" cy="1020.50" r="4.658"/>
<circle cx="1625.50" cy="1020.50" r="4.658"/>
<circle cx="1625.50" cy="1020.50" r="4.658"/>
<circle cx="1625.50" cy="1020.50" r="4.658"/>
<circle cx="1626.50" cy="1020.50" r="4.658"/>
<circle cx="1626.50" cy="1020.50" r="4.658"/>
<circle cx="1626.50" cy="1020.50" r="4.658"/>
<circle cx="1627.50" cy="1020.50" r="4.658"/>
<circle cx="1627.50" cy="1020.50" r="4.658"/>
<circle cx="1627.50" cy="1020.50" r="4.658"/>
<circle cx="1627.50" cy="1020.50" r="4.658"/>
<circle cx="1628.50" cy="1024.50" r="4.658"/>
<circle cx="1628.50" cy="1024.50" r="4.658"/>
<circle cx="1628.50" cy="1024.50" r="4.658"/>
<circle cx="1629.50" cy="1024.50" r="4.658"/>
<circle cx="1629.50" cy="1024.50" r="4.658"/>
<circle cx="1629.50" cy="1024.50" r="4.658"/>
<circle cx="1629.50" cy="1024.50" r="4.658"/>
<circle cx="1630.50" cy="1024.50" r="4.658"/>
<circle cx="1630.50" cy="1024.50" r="4.658"/>
<circle cx="1630.50" cy="1024.50" r="4.658"/>
<circle cx="1631.50" cy="1024.50" r="4.658"/>
<circle cx="1631.50" cy="1024.50" r="4.658"/>
<circle cx="1631.50" cy="1024.50" r="4.658"/>
<circle cx="1632.50" cy="1024.50" r="4.658"/>
<circle cx="1632.50" cy="1024.50" r="4.658"/>
<circle cx="1632.50" cy="1024.50" r="4.658"/>
<circle cx="1632.50" cy="1024.50" r="4.658"/>
<circle cx="1633.50" cy="1026.50" r="4.658"/>
<circle cx="1633.50" cy="1026.50" r="4.658"/>
<circle cx="1633.50" cy="1026.50" r="4.658"/>
<circle cx="1634.50" cy="1026.50" r="4.658"/>
<circle cx="1634.50" cy="1026.50" r="4.658"/>
<circle cx="1634.50" cy="1026.50" r="4.658"/>
<circle cx="1634.50" cy="1026.50" r="4.658"/>
<circle cx="1635.50" cy="1026.50" r="4.658"/>
<circle cx="1635.50" cy="1026.50" r="4.658"/>
<circle cx="1635.50" cy="1026.50" r="4.658"/>
<circle cx="1636.50" cy="1026.50" r="4.658"/>
<circle cx="1636.50" cy="1026.50" r="4.658"/>
<circle cx="1636.50" cy="1026.50" r="4.658"/>
<circle cx="1636.50" cy="1026.50" r="4.658"/>
<circle cx="1637.50" cy="1028.50" r="4.658"/>
<circle cx="1637.50" cy="1028.50" r="4.658"/>
<circle cx="1637.50" cy="1028.50" r="4.658"/>
<circle cx="1638.50" cy="1028.50" r="4.658"/>
<circle cx="1638.50" cy="1028.50" r="4.658"/>
<circle cx="1638.50" cy="1028.50" r="4.658"/>
<circle cx="1638.50" cy="1028.50" r="4.658"/>
<circle cx="1639.50" cy="1028.50" r="4.658"/>
<circle cx="1639.50" cy="1028.50" r="4.658"/>
<circle cx="1639.50" cy="1028.50" r="4.658"/>
<circle cx="1640.50" cy="1028.50" r="4.658"/>
<circle cx="1640.50" cy="1028.50" r="4.658"/>
<circle cx="1640.50" cy="1028.50" r="4.658"/>
<circle cx="1640.50" cy="1028.50" r="4.658"/>
<circle cx="1641.50" cy="1032.50" r="4.658"/>
<circle cx="1641.50" cy="1032.50" r="4.658"/>
<circle cx="1641.50" cy="1032.50" r="4.658"/>
<circle cx="1642.50" cy="1032.50" r="4.658"/>
<circle cx="1642.50" cy="1032.50" r="4.658"/>
<circle cx="1642.50" cy="1032.50" r="4.658"/>
<circle cx="1642.50" cy="1032.50" r="4.658"/>
<circle cx="1643.50" cy="1032.50" r="4.658"/>
<circle cx="1643.50" cy="1032.50" r="4.658"/>
<circle cx="1643.50" cy="1032.50" r="4.658"/>
<circle cx="1643.50" cy="1032.50" r="4.658"/>
<circle cx="1644.50" cy="1032.50" r="4.658"/>
<circle cx="1644.50" cy="1032.50" r="4.658"/>
<circle cx="1644.50" cy="1032.50" r="4.658"/>
<circle cx="1645.50" cy="1032.50" r="4.658"/>
<circle cx="1645.50" cy="1032.50" r="4.658"/>
<circle cx="1645.50" cy="1032.50" r="4.658"/>
<circle cx="1645.50" cy="1032.50" r="4.658"/>
<circle cx="1646.50" cy="1034.50" r="4.658"/>
<circle cx="1646.50" cy="1034.50" r="4.658"/>
<circle cx="1646.50" cy="1034.50" r="4.658"/>
<circle cx="1646.50" cy="1034.50" r="4.658"/>
<circle cx="1647.50" cy="1034.50" r="4.658"/>
<circle cx="1647.50" cy="1034.50" r="4.658"/>
<circle cx="1647.50" cy="1034.50" r="4.658"/>
<circle cx="1648.50" cy="1034.50" r="4.658"/>
<circle cx="1648.50" cy="1034.50" r="4.658"/>
<circle cx="1648.50" cy="1034.50" r="4.658"/>
<circle cx="1648.50" cy="1034.50" r="4.658"/>
<circle cx="1649.50" cy="1034.50" r="4.658"/>
<circle cx="1649.50" cy="1034.50" r="4.658"/>
<circle cx="1649.50" cy="1034.50" r="4.658"/>
<circle cx="1649.50" cy="1034.50" r="4.658"/>
<circle cx="1650.50" cy="1037.50" r="4.658"/>
<circle cx="1650.50" cy="1037.50" r="4.658"/>
<circle cx="1650.50" cy="1037.50" r="4.658"/>
<circle cx="1651.50" cy="1037.50" r="4.658"/>
<circle cx="1651.50" cy="1037.50" r="4.658"/>
<circle cx="1651.50" cy="1037.50" r="4.658"/>
<circle cx="1651.50" cy="1037.50" r="4.658"/>
<circle cx="1652.50" cy="1037.50" r="4.658"/>
<circle cx="1652.50" cy="1037.50" r="4.658"/>
<circle cx="1652.50" cy="1037.50" r="4.658"/>
<circle cx="1652.50" cy="1037.50" r="4.658"/>
<circle cx="1653.50" cy="1037.50" r="4.658"/>
<circle cx="1653.50" cy="1037.50" r="4.658"/>
<circle cx="1653.50" cy="1037.50" r="4.658"/>
<circle cx="1653.50" cy="1037.50" r="4.658"/>
<circle cx="1654.50" cy="1037.50" r="4.658"/>
<circle cx="1654.50" cy="1037.50" r="4.658"/>
<circle cx="1654.50" cy="1037.50" r="4.658"/>
<circle cx="1655.50" cy="1037.50" r="4.658"/>
<circle cx="1655.50" cy="1037.50" r="4.658"/>
<circle cx="1655.50" cy="1037.50" r="4.658"/>
<circle cx="1655.50" cy="1037.50" r="4.658"/>
<circle cx="1656.50" cy="1041.50" r="4.658"/>
<circle cx="1656.50" cy="1041.50" r="4.658"/>
<circle cx="1656.50" cy="1041.50" r="4.658"/>
<circle cx="1656.50" cy="1041.50" r="4.658"/>
<circle cx="1657.50" cy="1041.50" r="4.658"/>
<circle cx="1657.50" cy="1041.50" r="4.658"/>
<circle cx="1657.50" cy="1041.50" r="4.658"/>
<circle cx="1657.50" cy="1041.50" r="4.658"/>
<circle cx="1658.50" cy="1041.50" r="4.658"/>
<circle cx="1658.50" cy="1041.50" r="4.658"/>
<circle cx="1658.50" cy="1041.50" r="4.658"/>
<circle cx="1658.50" cy="1041.50" r="4.658"/>
<circle cx="1659.50" cy="1041.50" r="4.658"/>
<circle cx="1659.50" cy="1041.50" r="4.658"/>
<circle cx="1659.50" cy="1041.50" r="4.658"/>
<circle cx="1659.50" cy="1041.50" r="4.658"/>
<circle cx="1660.50" cy="1044.50" r="4.658"/>
<circle cx="1660.50" cy="1044.50" r="4.658"/>
<circle cx="1660.50" cy="1044.50" r="4.658"/>
<circle cx="1660.50" cy="1044.50" r="4.658"/>
<circle cx="1661.50" cy="1044.50" r="4.658"/>
<circle cx="1661.50" cy="1044.50" r="4.658"/>
<circle cx="1661.50" cy="1044.50" r="4.658"/>
<circle cx="1662.50" cy="1044.50" r="4.658"/>
<circle cx="1662.50" cy="1044.50" r="4.658"/>
<circle cx="1662.50" cy="1044.50" r="4.658"/>
<circle cx="1662.50" cy="1044.50" r="4.658"/>
<circle cx="1663.50" cy="1044.50" r="4.658"/>
<circle cx="1663.50" cy="1044.50" r="4.658"/>
<circle cx="1663.50" cy="1044.50" r="4.658"/>
<circle cx="1663.50" cy="1044.50" r="4.658"/>
<circle cx="1664.50" cy="1044.50" r="4.658"/>
<circle cx="1664.50" cy="1044.50" r="4.658"/>
<circle cx="1664.50" cy="1044.50" r="4.658"/>
<circle cx="1664.50" cy="1044.50" r="4.658"/>
<circle cx="1665.50" cy="1044.50" r="4.658"/>
<circle cx="1665.50" cy="1044.50" r="4.658"/>
<circle cx="1665.50" cy="1044.50" r="4.658"/>
<circle cx="1665.50" cy="1044.50" r="4.658"/>
<circle cx="1666.50" cy="1047.50" r="4.658"/>
<circle cx="1666.50" cy="1047.50" r="4.658"/>
<circle cx="1666.50" cy="1047.50" r="4.658"/>
<circle cx="1666.50" cy="1047.50" r="4.658"/>
<circle cx="1667.50" cy="1047.50" r="4.658"/>
<circle cx="1667.50" cy="1047.50" r="4.658"/>
<circle cx="1667.50" cy="1047.50" r="4.658"/>
<circle cx="1667.50" cy="1047.50" r="4.658"/>
<circle cx="1668.50" cy="1047.50" r="4.658"/>
<circle cx="1668.50" cy="1047.50" r="4.658"/>
<circle cx="1668.50" cy="1047.50" r="4.658"/>
<circle cx="1668.50" cy="1047.50" r="4.658"/>
<circle cx="1669.50" cy="1047.50" r="4.658"/>
<circle cx="1669.50" cy="1047.50" r="4.658"/>
<circle cx="1669.50" cy="1047.50" r="4.658"/>
<circle cx="1669.50" cy="1047.50" r="4.658"/>
<circle cx="1670.50" cy="1047.50" r="4.658"/>
<circle cx="1670.50" cy="1047.50" r="4.658"/>
<circle cx="1670.50" cy="1047.50" r="4.658"/>
<circle cx="1670.50" cy="1047.50" r="4.658"/>
<circle cx="1670.50" cy="1047.50" r="4.658"/>
<circle cx="1671.50" cy="1047.50" r="4.658"/>
<circle cx="1671.50" cy="1047.50" r="4.658"/>
<circle cx="1671.50" cy="1047.50" r="4.658"/>
<circle cx="1671.50" cy="1047.50" r="4.658"/>
<circle cx="1672.50" cy="1047.50" r="4.658"/>
<circle cx="1672.50" cy="1047.50" r="4.658"/>
<circle cx="1672.50" cy="1047.50" r="4.658"/>
<circle cx="1672.50" cy="1047.50" r="4.658"/>
<circle cx="1673.50" cy="1050.50" r="4.658"/>
<circle cx="1673.50" cy="1050.50" r="4.658"/>
<circle cx="1673.50" cy="1050.50" r="4.658"/>
<circle cx="1673.50" cy="1050.50" r="4.658"/>
<circle cx="1674.50" cy="1050.50" r="4.658"/>
<circle cx="1674.50" cy="1050.50" r="4.658"/>
<circle cx="1674.50" cy="1050.50" r="4.658"/>
<circle cx="1674.50" cy="1050.50" r="4.658"/>
<circle cx="1675.50" cy="1050.50" r="4.658"/>
<circle cx="1675.50" cy="1050.50" r="4.658"/>
<circle cx="1675.50" cy="1050.50" r="4.658"/>
<circle cx="1675.50" cy="1050.50" r="4.658"/>
<circle cx="1676.50" cy="1050.50" r="4.658"/>
<circle cx="1676.50" cy="1050.50" r="4.658"/>
<circle cx="1676.50" cy="1050.50" r="4.658"/>
<circle cx="1676.50" cy="1050.50" r="4.658"/>
<circle cx="1677.50" cy="1054.50" r="4.658"/>
<circle cx="1677.50" cy="1054.50" r="4.658"/>
<circle cx="1677.50" cy="1054.50" r="4.658"/>
<circle cx="1677.50" cy="1054.50" r="4.658"/>
<circle cx="1677.50" cy="1054.50" r="4.658"/>
<circle cx="1678.50" cy="1054.50" r="4.658"/>
<circle cx="1678.50" cy="1054.50" r="4.658"/>
<circle cx="1678.50" cy="1054.50" r="4.658"/>
<circle cx="1678.50" cy="1054.50" r="4.658"/>
<circle cx="1679.50" cy="1054.50" r="4.658"/>
<circle cx="1679.50" cy="1054.50" r="4.658"/>
<circle cx="1679.50" cy="1054.50" r="4.658"/>
<circle cx="1679.50" cy="1054.50" r="4.658"/>
<circle cx="1680.50" cy="1054.50" r="4.658"/>
<circle cx="1680.50" cy="1054.50" r="4.658"/>
<circle cx="1680.50" cy="1054.50" r="4.658"/>
<circle cx="1680.50" cy="1054.50" r="4.658"/>
<circle cx="1681.50" cy="1054.50" r="4.658"/>
<circle cx="1681.50" cy="1054.50" r="4.658"/>
<circle cx="1681.50" cy="1054.50" r="4.658"/>
<circle cx="1681.50" cy="1054.50" r="4.658"/>
<circle cx="1681.50" cy="1054.50" r="4.658"/>
<circle cx="1682.50" cy="1054.50" r="4.658"/>
<circle cx="1682.50" cy="1054.50" r="4.658"/>
<circle cx="1682.50" cy="1054.50" r="4.658"/>
<circle cx="1682.50" cy="1054.50" r="4.658"/>
<circle cx="1683.50" cy="1056.50" r="4.658"/>
<circle cx="1683.50" cy="1056.50" r="4.658"/>
<circle cx="1683.50" cy="1056.50" r="4.658"/>
<circle cx="1683.50" cy="1056.50" r="4.658"/>
<circle cx="1684.50" cy="1056.50" r="4.658"/>
<circle cx="1684.50" cy="1056.50" r="4.658"/>
<circle cx="1684.50" cy="1056.50" r="4.658"/>
<circle cx="1684.50" cy="1056.50" r="4.658"/>
<circle cx="1684.50" cy="1056.50" r="4.658"/>
<circle cx="1685.50" cy="1056.50" r="4.658"/>
<circle cx="1685.50" cy="1056.50" r="4.658"/>
<circle cx="1685.50" cy="1056.50" r="4.658"/>
<circle cx="1685.50" cy="1056.50" r="4.658"/>
<circle cx="1686.50" cy="1056.50" r="4.658"/>
<circle cx="1686.50" cy="1056.50" r="4.658"/>
<circle cx="1686.50" cy="1056.50" r="4.658"/>
<circle cx="1686.50" cy="1056.50" r="4.658"/>
<circle cx="1687.50" cy="1056.50" r="4.658"/>
<circle cx="1687.50" cy="1056.50" r="4.658"/>
<circle cx="1687.50" cy="1056.50" r="4.658"/>
<circle cx="1687.50" cy="1056.50" r="4.658"/>
<circle cx="1687.50" cy="1056.50" r="4.658"/>
<circle cx="1688.50" cy="1056.50" r="4.658"/>
<circle cx="1688.50" cy="1056.50" r="4.658"/>
<circle cx="1688.50" cy="1056.50" r="4.658"/>
<circle cx="1688.50" cy="1056.50" r="4.658"/>
<circle cx="1689.50" cy="1056.50" r="4.658"/>
<circle cx="1689.50" cy="1056.50" r="4.658"/>
<circle cx="1689.50" cy="1056.50" r="4.658"/>
<circle cx="1689.50" cy="1056.50" r="4.658"/>
<circle cx="1689.50" cy="1056.50" r="4.658"/>
<circle cx="1690.50" cy="1059.50" r="4.658"/>
<circle cx="1690.50" cy="1059.50" r="4.658"/>
<circle cx="1690.50" cy="1059.50" r="4.658"/>
<circle cx="1690.50" cy="1059.50" r="4.658"/>
<circle cx="1691.50" cy="1059.50" r="4.658"/>
<circle cx="1691.50" cy="1059.50" r="4.658"/>
<circle cx="1691.50" cy="1059.50" r="4.658"/>
<circle cx="1691.50" cy="1059.50" r="4.658"/>
<circle cx="1691.50" cy="1059.50" r="4.658"/>
<circle cx="1692.50" cy="1059.50" r="4.658"/>
<circle cx="1692.50" cy="1059.50" r="4.658"/>
<circle cx="1692.50" cy="1059.50" r="4.658"/>
<circle cx="1692.50" cy="1059.50" r="4.658"/>
<circle cx="1693.50" cy="1059.50" r="4.658"/>
<circle cx="1693.50" cy="1059.50" r="4.658"/>
<circle cx="1693.50" cy="1059.50" r="4.658"/>
</g>
<line x1="167.33" y1="101.50" x2="1693.03" y2="1059.35" stroke="#ff0000" stroke-width="4.167" stroke-dasharray="15.417 6.667"/>
<g class="sp" shape-rendering="crispEdges">
<rect x="90" y="53" width="1680" height="2"/>
<rect x="90" y="1106" width="1680" height="2"/>
<rect x="90" y="53" width="2" height="1055"/>
<rect x="1768" y="53" width="2" height="1055"/>
</g>
<rect x="1379" y="64" width="380" height="67" rx="4.17" ry="4.17" fill="#ffffff" fill-opacity="0.8" stroke="#cccccc" stroke-opacity="0.8" stroke-width="2.083"/>
<g class="pt"><circle cx="1408.5" cy="83.5" r="4.658"/></g>
<line x1="1387.10" y1="111" x2="1428.77" y2="111" stroke="#ff0000" stroke-width="4.167" stroke-dasharray="15.417 6.667"/>
<text class="t" x="1445.44" y="88">Data</text>
<text class="t" x="1445.44" y="119">Fit: slope=-0.882, R²=0.9954</text>
<text class="title" x="930.18" y="41.0" text-anchor="middle">Zipf's Law Analysis (Top 1000 Words)</text>
<text class="t" x="930.5" y="1165.5" text-anchor="middle">log₁₀(Rank)</text>
<text class="t" transform="translate(31.5,583.3) rotate(-90)" text-anchor="middle">log₁₀(Frequency)</text>
<text class="t" x="167.33" y="1138" text-anchor="middle">0.0</text>
<text class="t" x="421.61" y="1138" text-anchor="middle">0.5</text>
<text class="t" x="675.89" y="1138" text-anchor="middle">1.0</text>
<text class="t" x="930.18" y="1138" text-anchor="middle">1.5</text>
<text class="t" x="1184.46" y="1138" text-anchor="middle">2.0</text>
<text class="t" x="1438.74" y="1138" text-anchor="middle">2.5</text>
<text class="t" x="1693.03" y="1138" text-anchor="middle">3.0</text>
<text class="t" x="76.1" y="68.00" text-anchor="end">4.5</text>
<text class="t" x="76.1" y="249.00" text-anchor="end">4.0</text>
<text class="t" x="76.1" y="430.00" text-anchor="end">3.5</text>
<text class="t" x="76.1" y="611.00" text-anchor="end">3.0</text>
<text class="t" x="76.1" y="792.00" text-anchor="end">2.5</text>
<text class="t" x="76.1" y="973.00" text-anchor="end">2.0</text>
</svg>
</body>
</html>
